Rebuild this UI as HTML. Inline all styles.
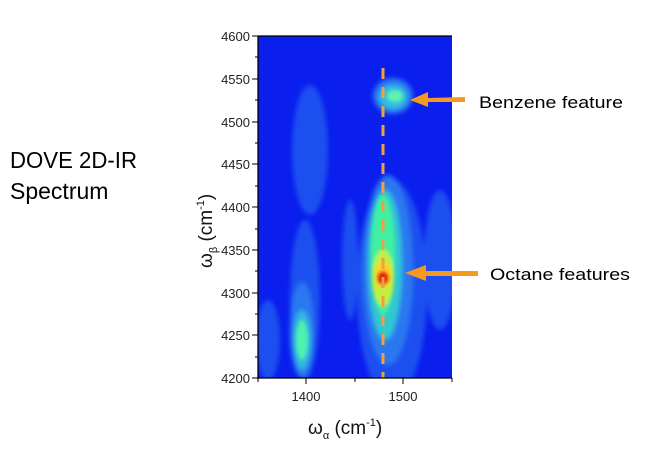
<!DOCTYPE html>
<html><head><style>
body{margin:0;width:648px;height:452px;background:#fff;overflow:hidden;font-family:"Liberation Sans",Arial,sans-serif;}
</style></head><body>
<svg width="648" height="452" viewBox="0 0 648 452" xmlns="http://www.w3.org/2000/svg" font-family="Liberation Sans, Arial, sans-serif">
<defs>
<filter id="b" x="-50%" y="-50%" width="200%" height="200%"><feGaussianBlur stdDeviation="2.5"/></filter>
<filter id="b2" x="-50%" y="-50%" width="200%" height="200%"><feGaussianBlur stdDeviation="1.5"/></filter>
<clipPath id="c"><rect x="258" y="36" width="194" height="342"/></clipPath>
</defs>
<rect x="258" y="36" width="194" height="342" fill="#0a1eee"/>
<g clip-path="url(#c)">
<g filter="url(#b)">
<ellipse cx="310" cy="150" rx="18" ry="65" fill="#1a50f0"/>
<ellipse cx="305" cy="300" rx="15" ry="80" fill="#1a50f0"/>
<ellipse cx="350" cy="260" rx="8" ry="60" fill="#1a50f0"/>
<ellipse cx="268" cy="340" rx="12" ry="40" fill="#1a50f0"/>
<ellipse cx="392" cy="290" rx="35" ry="110" fill="#1a50f0"/>
<ellipse cx="440" cy="260" rx="16" ry="70" fill="#1a50f0"/>
<ellipse cx="393" cy="96" rx="20" ry="18" fill="#2a78f0"/>
<ellipse cx="302" cy="330" rx="12" ry="48" fill="#2a78f0"/>
<ellipse cx="388" cy="270" rx="25" ry="95" fill="#2a78f0"/>
<ellipse cx="302" cy="340" rx="9" ry="30" fill="#30b8e0"/>
<ellipse cx="393" cy="97" rx="14" ry="12" fill="#30c0e0"/>
<ellipse cx="385" cy="265" rx="17" ry="75" fill="#30c8d0"/>
</g>
<g filter="url(#b2)">
<ellipse cx="302" cy="340" rx="6" ry="20" fill="#50f0b0"/>
<ellipse cx="395" cy="96" rx="8" ry="6" fill="#60f0b0"/>
<ellipse cx="383" cy="255" rx="12" ry="60" fill="#40f0a0"/>
<ellipse cx="383" cy="278" rx="11" ry="28" fill="#c0f040"/>
<ellipse cx="383" cy="275" rx="8" ry="13" fill="#ffd020"/>
<ellipse cx="383" cy="278" rx="6" ry="7" fill="#e02010"/>
</g>
</g>
<line x1="383" y1="68" x2="383" y2="378" stroke="#f0a040" stroke-width="3" stroke-dasharray="11,8"/>
<g stroke="#000" stroke-width="1.3">
<line x1="258" y1="36" x2="258" y2="379"/>
<line x1="257" y1="378" x2="452" y2="378"/>
<line x1="258" y1="36" x2="452" y2="36"/>
</g>
<g stroke="#000" stroke-width="1">
<line x1="252" y1="36" x2="258" y2="36"/><line x1="252" y1="79" x2="258" y2="79"/><line x1="252" y1="122" x2="258" y2="122"/><line x1="252" y1="164" x2="258" y2="164"/><line x1="252" y1="207" x2="258" y2="207"/><line x1="252" y1="250" x2="258" y2="250"/><line x1="252" y1="293" x2="258" y2="293"/><line x1="252" y1="335" x2="258" y2="335"/><line x1="252" y1="378" x2="258" y2="378"/>
<line x1="255" y1="57" x2="258" y2="57"/><line x1="255" y1="100" x2="258" y2="100"/><line x1="255" y1="143" x2="258" y2="143"/><line x1="255" y1="186" x2="258" y2="186"/><line x1="255" y1="229" x2="258" y2="229"/><line x1="255" y1="271" x2="258" y2="271"/><line x1="255" y1="314" x2="258" y2="314"/><line x1="255" y1="357" x2="258" y2="357"/>
<line x1="306" y1="378" x2="306" y2="384"/><line x1="403" y1="378" x2="403" y2="384"/><line x1="258" y1="378" x2="258" y2="382"/><line x1="355" y1="378" x2="355" y2="382"/><line x1="452" y1="378" x2="452" y2="382"/>
</g>
<g font-size="13" fill="#222" text-anchor="end">
<text x="250" y="41">4600</text><text x="250" y="84">4550</text><text x="250" y="127">4500</text><text x="250" y="169">4450</text><text x="250" y="212">4400</text><text x="250" y="255">4350</text><text x="250" y="298">4300</text><text x="250" y="340">4250</text><text x="250" y="383">4200</text>
</g>
<g font-size="13" fill="#222" text-anchor="middle">
<text x="306" y="401">1400</text><text x="403" y="401">1500</text>
</g>
<text x="308" y="434" font-size="19" fill="#111">ω<tspan font-size="11" dy="5">α</tspan><tspan dy="-5"> (cm</tspan><tspan font-size="11" dy="-8">-1</tspan><tspan dy="8">)</tspan></text>
<text transform="translate(212,268) rotate(-90)" font-size="19" fill="#111">ω<tspan font-size="11" dy="5">β</tspan><tspan dy="-5"> (cm</tspan><tspan font-size="11" dy="-8">-1</tspan><tspan dy="8">)</tspan></text>
<g fill="#f59a1e" stroke="none">
<polygon points="465,97 428,98 428,92 410,100 428,107 428,102 465,102"/>
<polygon points="478,271 426,271 426,265 405,273 426,281 426,276 478,276"/>
</g>
<text x="479" y="108" font-size="17" fill="#000" textLength="144" lengthAdjust="spacingAndGlyphs">Benzene feature</text>
<text x="490" y="280" font-size="17" fill="#000" textLength="140" lengthAdjust="spacingAndGlyphs">Octane features</text>
<text x="10" y="168" font-size="23" fill="#000" textLength="127" lengthAdjust="spacingAndGlyphs">DOVE 2D-IR</text>
<text x="10" y="199" font-size="23" fill="#000">Spectrum</text>
</svg>
</body></html>
